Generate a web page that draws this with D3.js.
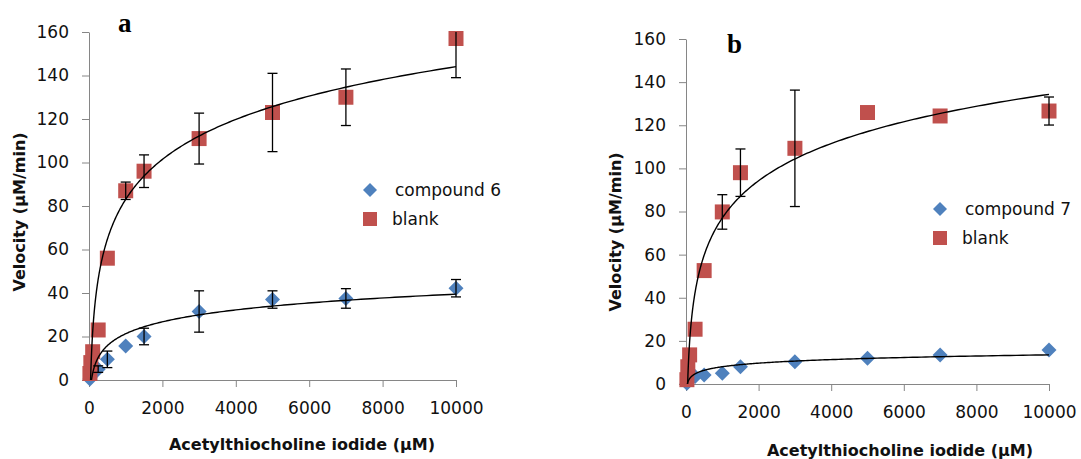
<!DOCTYPE html>
<html lang="en">
  <head>
    <meta charset="utf-8">
    <title>Enzyme kinetics</title>
    <style>
      body { margin: 0; background: #fff; }
      svg { display: block; }
      .axis path, .axis line { stroke: #868686; }
      .axis text { font-family: "DejaVu Sans", sans-serif; font-size: 17px; fill: #111; }
      .title { font-family: "DejaVu Sans", sans-serif; font-size: 16px; font-weight: bold; fill: #111; }
      .legend { font-family: "DejaVu Sans", sans-serif; font-size: 17px; fill: #111; }
      .panel-label { font-family: "Liberation Serif", serif; font-size: 27px; font-weight: bold; }
    </style>
  </head>
  <body>
    <svg width="1081" height="459"></svg>

    <script src="https://cdn.jsdelivr.net/npm/d3@7"></script>
    <script>

    // substrate concentrations (uM)
    var conc = [25, 50, 100, 250, 500, 1000, 1500, 3000, 5000, 7000, 10000];
    var xTicks = [0, 2000, 4000, 6000, 8000, 10000];
    var yTicks = [0, 20, 40, 60, 80, 100, 120, 140, 160];

    // panel a
    var compound6 = [0.5, 1.5, 3, 5, 9.5, 15.6, 20, 31.5, 37, 37.5, 42.2];
    var compound6Err = [0, 0, 0, 1.5, 3.8, 0, 3.8, 9.5, 4, 4.5, 4];
    var blankA = [3, 8, 13, 23, 56, 87, 96, 111, 123, 130, 157];
    var blankAErr = [0, 0, 0, 0, 0, 4, 7.5, 11.7, 18, 13, 18];

    // panel b
    var compound7 = [0.3, 1, 2.6, 3.5, 4.2, 5, 8, 10.3, 11.9, 13.4, 15.8];
    var compound7Err = [0, 0, 0, 0, 0, 0, 0, 0, 0, 0, 0];
    var blankB = [2, 8, 13.5, 25.4, 52.6, 79.8, 98, 109.3, 125.9, 124.3, 126.6];
    var blankBErr = [0, 0, 0, 0, 0, 8, 11, 27, 0, 0, 6.5];

    // logarithmic trendlines y = a*ln(x) + b
    var trend6 = [7.9, -33.3];
    var trendBlankA = [26.5, -100];
    var trend7 = [2.39, -8.5];
    var trendBlankB = [24.9, -95];

    var blue = "#4F81BD", red = "#C0504D";

    var svg = d3.select("svg");

    function diamond(s) {
      return "M0," + (-s) + "L" + s + ",0L0," + s + "L" + (-s) + ",0Z";
    }

    function drawPanel(p) {
      var x = d3.scaleLinear().domain([0, 10000]).range(p.xr);
      var y = d3.scaleLinear().domain([0, 160]).range(p.yr);
      var g = svg.append("g");

      g.append("clipPath").attr("id", "clip" + p.id)
        .append("rect")
          .attr("x", p.xr[0]).attr("y", p.yr[1])
          .attr("width", p.xr[1] - p.xr[0] + 20)
          .attr("height", p.yr[0] - p.yr[1]);

      g.append("g").attr("class", "axis")
          .attr("transform", "translate(0," + p.yr[0] + ")")
          .call(d3.axisBottom(x).tickValues(xTicks).tickFormat(d3.format("d"))
            .tickSize(7).tickSizeOuter(0).tickPadding(15));

      g.append("g").attr("class", "axis")
          .attr("transform", "translate(" + p.xr[0] + ",0)")
          .call(d3.axisLeft(y).tickValues(yTicks).tickSize(7).tickSizeOuter(0).tickPadding(13));

      // markers
      var pts = g.append("g");
      p.series.forEach(function(s) {
        pts.selectAll(null)
          .data(s.values)
          .enter().append("path")
            .attr("transform", function(d, i) { return "translate(" + x(conc[i]) + "," + y(d) + ")"; })
            .attr("d", s.shape === "square" ? "M-7.5,-7.5h15v15h-15Z" : diamond(7.5))
            .attr("fill", s.color);
      });

      // error bars
      var eb = g.append("g").attr("clip-path", "url(#clip" + p.id + ")")
        .attr("stroke", "#000").attr("stroke-width", 1.3);
      p.series.forEach(function(s) {
        s.values.forEach(function(v, i) {
          var e = s.err[i];
          if (!e) return;
          var cx = x(conc[i]);
          eb.append("line").attr("x1", cx).attr("x2", cx).attr("y1", y(v - e)).attr("y2", y(v + e));
          [v - e, v + e].forEach(function(t) {
            eb.append("line").attr("x1", cx - 5).attr("x2", cx + 5).attr("y1", y(t)).attr("y2", y(t));
          });
        });
      });

      // trendlines
      p.series.forEach(function(s) {
        var a = s.trend[0], b = s.trend[1];
        var x0 = Math.exp(-b / a);
        var xs = d3.range(0, 301).map(function(k) { return x0 * Math.pow(10000 / x0, k / 300); });
        g.append("path")
          .attr("clip-path", "url(#clip" + p.id + ")")
          .attr("fill", "none").attr("stroke", "#000").attr("stroke-width", 1.4)
          .attr("d", d3.line()
            .x(function(d) { return x(d); })
            .y(function(d) { return y(a * Math.log(d) + b); })(xs));
      });

      // axis titles
      g.append("text").attr("class", "title")
        .attr("x", p.xt[0]).attr("y", p.xt[1]).attr("text-anchor", "middle")
        .text("Acetylthiocholine iodide (\u00b5M)");
      g.append("text").attr("class", "title")
        .attr("transform", "translate(" + p.yt[0] + "," + p.yt[1] + ") rotate(-90)")
        .attr("text-anchor", "middle")
        .text("Velocity (\u00b5M/min)");

      g.append("text").attr("class", "panel-label")
        .attr("x", p.label[0]).attr("y", p.label[1]).text(p.id);

      // legend
      var lg = g.append("g").attr("transform", "translate(" + p.legend[0] + "," + p.legend[1] + ")");
      p.series.forEach(function(s, i) {
        lg.append("path")
          .attr("transform", "translate(0," + (i * 29) + ")")
          .attr("d", s.shape === "square" ? "M-7,-7h14v14h-14Z" : diamond(7))
          .attr("fill", s.color);
        lg.append("text").attr("class", "legend")
          .attr("x", i === 0 ? 25 : 22).attr("y", i * 29 + 6)
          .text(s.name);
      });
    }

    drawPanel({
      id: "a", xr: [89, 456], yr: [380, 32],
      xt: [302, 450], yt: [25, 212], label: [118, 32], legend: [370, 190],
      series: [
        { name: "compound 6", values: compound6, err: compound6Err, trend: trend6, color: blue, shape: "diamond" },
        { name: "blank", values: blankA, err: blankAErr, trend: trendBlankA, color: red, shape: "square" }
      ]
    });

    drawPanel({
      id: "b", xr: [686, 1049], yr: [384, 39],
      xt: [900, 456], yt: [621, 232], label: [727, 53], legend: [940, 209],
      series: [
        { name: "compound 7", values: compound7, err: compound7Err, trend: trend7, color: blue, shape: "diamond" },
        { name: "blank", values: blankB, err: blankBErr, trend: trendBlankB, color: red, shape: "square" }
      ]
    });

    </script>
  </body>
</html>
